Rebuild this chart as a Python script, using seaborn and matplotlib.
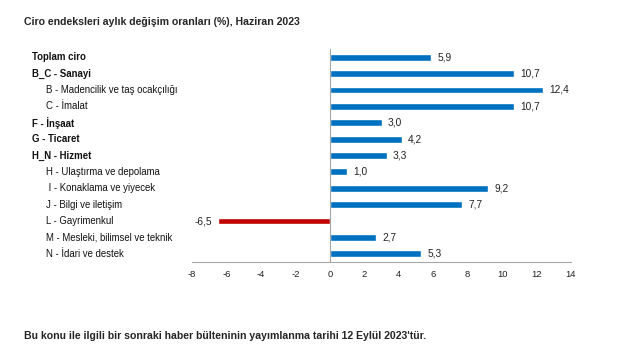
import matplotlib
matplotlib.use("Agg")
import matplotlib.pyplot as plt
import matplotlib.transforms as mtransforms
import seaborn as sns
import pandas as pd

# veriler
categories = ['Toplam ciro', 'B_C - Sanayi', 'B - Madencilik ve taş ocakçılığı', 'C - İmalat',
              'F - İnşaat', 'G - Ticaret', 'H_N - Hizmet', 'H - Ulaştırma ve depolama',
              ' I - Konaklama ve yiyecek', 'J - Bilgi ve iletişim', 'L - Gayrimenkul',
              'M - Mesleki, bilimsel ve teknik', 'N - İdari ve destek']
values = [5.9, 10.7, 12.4, 10.7, 3.0, 4.2, 3.3, 1.0, 9.2, 7.7, -6.5, 2.7, 5.3]
is_main = [True, True, False, False, True, True, True, False, False, False, False, False, False]
x_ticks = [-8, -6, -4, -2, 0, 2, 4, 6, 8, 10, 12, 14]

sns.set_theme(style='white')
plt.rcParams['font.family'] = ['Liberation Sans', 'DejaVu Sans']

df = pd.DataFrame({'kategori': categories, 'deger': values})
renkler = ['#C00000' if v < 0 else '#0070C0' for v in values]

fig = plt.figure(figsize=(6.41, 3.6), dpi=100)
ax = fig.add_axes([192 / 641, 1 - 262 / 360, (571 - 192) / 641, (262 - 49) / 360])

sns.barplot(data=df, x='deger', y='kategori', hue='kategori', palette=renkler,
            legend=False, orient='h', width=0.42, ax=ax, saturation=1)

ax.set_xlim(-8, 14)
ax.set_ylim(len(categories) - 0.5, -0.5)
ax.set_xticks(x_ticks)
ax.set_xticklabels([str(t) for t in x_ticks], fontsize=6.8, color='#222222')
ax.set_yticks([])
ax.set_xlabel('')
ax.set_ylabel('')
for s in ['top', 'right', 'left']:
    ax.spines[s].set_visible(False)
ax.spines['bottom'].set_color('#A6A6A6')
ax.spines['bottom'].set_linewidth(0.8)
ax.axvline(0, color='#A6A6A6', lw=0.8)
ax.tick_params(axis='x', length=4, width=0.8, color='#A6A6A6', pad=2, direction='out')

# değer etiketleri
for i, v in enumerate(values):
    lbl = f'{v:.1f}'.replace('.', ',')
    if v >= 0:
        ax.text(v + 0.35, i, lbl, va='center', ha='left', fontsize=7.3, color='#222222')
    else:
        ax.text(v - 0.35, i, lbl, va='center', ha='right', fontsize=7.3, color='#222222')

# kategori etiketleri
trans = mtransforms.blended_transform_factory(fig.transFigure, ax.transData)
for i, (c, m) in enumerate(zip(categories, is_main)):
    xpos = 32 / 641 if m else 46 / 641
    ax.text(xpos, i, c, transform=trans, va='center', ha='left', fontsize=6.9,
            fontweight='bold' if m else 'normal', color='#111111', clip_on=False)

fig.text(24 / 641, 1 - 22 / 360, 'Ciro endeksleri aylık değişim oranları (%), Haziran 2023',
         fontsize=7.6, fontweight='bold', va='center', ha='left')
fig.text(24 / 641, 1 - 336 / 360,
         "Bu konu ile ilgili bir sonraki haber bülteninin yayımlanma tarihi 12 Eylül 2023'tür.",
         fontsize=7.6, fontweight='bold', va='center', ha='left')

fig.savefig('out.png', dpi=100, facecolor='white')
